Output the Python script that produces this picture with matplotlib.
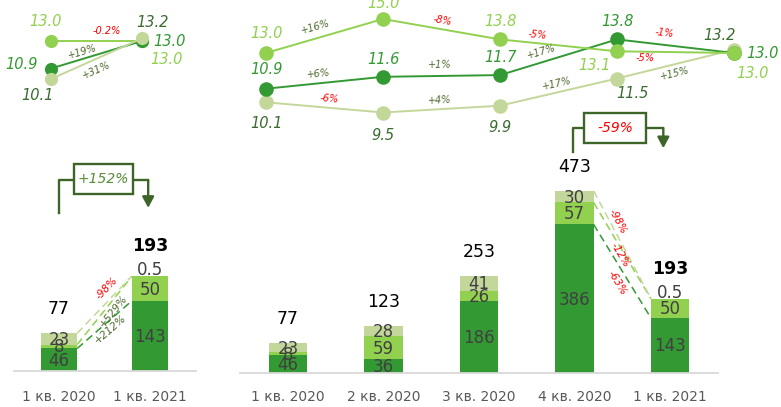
import numpy as np
import matplotlib.pyplot as plt
from matplotlib.patches import Rectangle

W, H = 781, 407

quarters = ['1 кв. 2020', '2 кв. 2020', '3 кв. 2020', '4 кв. 2020', '1 кв. 2021']
dark_vals = [46, 36, 186, 386, 143]
mid_vals = [8, 59, 26, 57, 50]
pale_vals = [23, 28, 41, 30, 0.5]
totals = [77, 123, 253, 473, 193]

line_mid = [13.0, 15.0, 13.8, 13.1, 13.0]
line_dark = [10.9, 11.6, 11.7, 13.8, 13.0]
line_pale = [10.1, 9.5, 9.9, 11.5, 13.2]

pct_mid = ['+16%', '-8%', '-5%', '-5%']
pct_dark = ['+6%', '+1%', '+17%', '-1%']
pct_pale = ['-6%', '+4%', '+17%', '+15%']

yoy_line_pct = {'mid': '-0.2%', 'dark': '+19%', 'pale': '+31%'}
yoy_bar_pct = ['+212%', '+529%', '-98%']   # dark, mid, pale
qoq_bar_pct = ['-63%', '-12%', '-98%']
yoy_total = '+152%'
qoq_total = '-59%'

C_DARK = '#339933'
C_MID = '#92D050'
C_PALE = '#C4D79B'
C_DARKTXT = '#3A6B30'
C_POS = '#4F6B2F'
C_NEG = '#FF0000'
C_BOX = '#3D6527'

plt.rcParams['font.family'] = ['DejaVu Sans']

fig = plt.figure(figsize=(W / 100, H / 100), dpi=100)


def px_axes(x0, y0, x1, y1):
    ax = fig.add_axes([x0 / W, 1 - y1 / H, (x1 - x0) / W, (y1 - y0) / H])
    ax.patch.set_alpha(0)
    return ax


def angle(ax, p0, p1):
    a = ax.transData.transform(p0)
    b = ax.transData.transform(p1)
    return np.degrees(np.arctan2(b[1] - a[1], b[0] - a[0]))


def pct_color(t):
    return C_NEG if t.startswith('-') else C_POS


def label(ax, xy, text, color, off, size=10.5, rot=0, style='italic', weight='normal'):
    ax.annotate(text, xy, xytext=(off[0], -off[1]), textcoords='offset pixels',
                ha='center', va='center', color=color, fontsize=size, rotation=rot,
                style=style, weight=weight, annotation_clip=False, rotation_mode='anchor')


# ---------------- line charts ----------------
def draw_lines(ax, idx, order, ms, val_offs, pct_offs, pcts):
    xs = np.arange(len(idx))
    series = {'mid': (line_mid, C_MID, C_MID), 'dark': (line_dark, C_DARK, C_DARK),
              'pale': (line_pale, C_PALE, C_DARKTXT)}
    for key in order:
        vals, c, tc = series[key]
        ys = [vals[i] for i in idx]
        ax.plot(xs, ys, color=c, lw=1.4, marker='o', ms=ms, mew=0, clip_on=False)
        for k in range(len(xs)):
            label(ax, (xs[k], ys[k]), f'{ys[k]:.1f}', tc, val_offs[key][k])
        for k in range(len(xs) - 1):
            p0, p1 = (xs[k], ys[k]), (xs[k + 1], ys[k + 1])
            mid = ((p0[0] + p1[0]) / 2, (p0[1] + p1[1]) / 2)
            t = pcts[key][k]
            label(ax, mid, t, pct_color(t), pct_offs[key][k], size=7, rot=angle(ax, p0, p1))
    ax.axis('off')


axl = px_axes(0, 0, 200, 120)
axl.set_xlim(-51 / 91, 149 / 91)
axl.set_ylim(13 - 79 / 13.1, 13 + 41 / 13.1)
draw_lines(axl, [0, 4], ['mid', 'dark', 'pale'], 9.5,
           {'mid': [(-6, -19), (24, 18)], 'dark': [(-30, -4), (27, 1)],
            'pale': [(-14, 17), (10, -16)]},
           {'mid': [(10, -10)], 'dark': [(-14, -3)], 'pale': [(0, 11)]},
           {k: [v] for k, v in yoy_line_pct.items()})

axr = px_axes(230, 0, 781, 140)
axr.set_xlim(-36 / 117, 515 / 117)
axr.set_ylim(13 - 87 / 17, 13 + 53 / 17)
draw_lines(axr, range(5), ['pale', 'dark', 'mid'], 10.5,
           {'mid': [(0, -20), (0, -16), (0, -18), (-23, 14), (18, 20)],
            'dark': [(0, -19), (0, -17), (0, -18), (0, -18), (28, 1)],
            'pale': [(0, 21), (0, 23), (0, 22), (15, 15), (-15, -14)]},
           {'mid': [(-9, -9), (1, -9), (-21, -10), (-30, 6)],
            'dark': [(-6, -9), (-2, -11), (-17, -5), (-11, -13)],
            'pale': [(5, -9), (-2, -9), (-2, -8), (-1, 9)]},
           {'mid': pct_mid, 'dark': pct_dark, 'pale': pct_pale})


# ---------------- bar charts ----------------
BW = 0.4


def draw_bars(ax, idx, pad):
    xs = np.arange(len(idx))
    d = np.array([dark_vals[i] for i in idx], float)
    m = np.array([mid_vals[i] for i in idx], float)
    p = np.array([pale_vals[i] for i in idx], float)
    t = [totals[i] for i in idx]
    ax.bar(xs, d, BW, color=C_DARK, zorder=2)
    ax.bar(xs, m, BW, bottom=d, color=C_MID, zorder=2)
    ax.bar(xs, p, BW, bottom=d + m, color=C_PALE, zorder=2)
    for k in range(len(xs)):
        for v, b in ((d[k], 0), (m[k], d[k]), (p[k], d[k] + m[k])):
            txt = f'{v:g}'
            off = (0, -6) if v < 1 else (0, 1)
            label(ax, (xs[k], b + v / 2), txt, '#404040', off, size=12, style='normal')
        last = idx[k] == 4
        label(ax, (xs[k], t[k]), str(t[k]), 'black', (0, -30 if last else -24),
              size=12.5, style='normal', weight='bold' if last else 'normal')
    ax.set_xticks(xs, [quarters[i] for i in idx])
    ax.tick_params(axis='x', length=0, pad=pad, labelsize=10, labelcolor='#595959')
    ax.set_yticks([])
    for s in ('top', 'left', 'right'):
        ax.spines[s].set_visible(False)
    ax.spines['bottom'].set_color('#D9D9D9')
    ax.spines['bottom'].set_linewidth(1.3)
    return xs, d, m, p


def bar_links(ax, xs, d, m, p, i0, i1, texts, offs):
    tops = [d, d + m, d + m + p]
    for k, c in enumerate((C_DARK, C_MID, C_PALE)):
        p0 = (xs[i0] + BW / 2, tops[k][i0])
        p1 = (xs[i1] - BW / 2, tops[k][i1])
        ax.plot([p0[0], p1[0]], [p0[1], p1[1]], color=c, lw=1.1, ls=(0, (5, 3)), zorder=1)
        mid = ((p0[0] + p1[0]) / 2, (p0[1] + p1[1]) / 2)
        label(ax, mid, texts[k], pct_color(texts[k]), offs[k], size=7.5, rot=angle(ax, p0, p1))


def growth_box(ax, x0, x1, y_start, y_lvl, y_tip, bx, by, text):
    kw = dict(color=C_BOX, lw=1.7, clip_on=False, zorder=3)
    ax.plot([x0, x0, bx[0]], [y_start, y_lvl, y_lvl], **kw)
    ax.plot([bx[1], x1], [y_lvl, y_lvl], **kw)
    ax.annotate('', xy=(x1, y_tip), xytext=(x1, y_lvl - 0.5),
                arrowprops=dict(arrowstyle='-|>,head_length=0.65,head_width=0.35',
                                color=C_BOX, lw=1.7, shrinkA=0, shrinkB=0),
                annotation_clip=False)
    ax.add_patch(Rectangle((bx[0], by[0]), bx[1] - bx[0], by[1] - by[0], fc='white',
                           ec=C_BOX, lw=1.7, clip_on=False, zorder=4))
    ax.text((bx[0] + bx[1]) / 2, (by[0] + by[1]) / 2, text, ha='center', va='center',
            style='italic', fontsize=10, zorder=5,
            color=C_NEG if text.startswith('-') else '#5B8C3A')


axbl = px_axes(13.5, 150, 195.5, 371)
axbl.set_xlim(-0.5, 1.5)
axbl.set_ylim(0, 221 / 0.49)
xs, d, m, p = draw_bars(axbl, [0, 4], 13.5)
bar_links(axbl, xs, d, m, p, 0, 1, yoy_bar_pct, [(6, 4), (9, 1), (2, -17)])
growth_box(axbl, 0, 0.98, 322, 390, 333, (0.165, 0.813), (361, 422), yoy_total)

axbr = px_axes(240.25, 100, 717.75, 373)
axbr.set_xlim(-0.5, 4.5)
axbr.set_ylim(0, 273 / 0.385)
xs, d, m, p = draw_bars(axbr, range(5), 12)
bar_links(axbr, xs, d, m, p, 3, 4, qoq_bar_pct, [(-5, 12), (-2, 4), (-5, -23)])
growth_box(axbr, 2.98, 3.93, 574, 636, 584, (3.10, 3.75), (597, 675), qoq_total)

fig.savefig('out.png', dpi=100)
